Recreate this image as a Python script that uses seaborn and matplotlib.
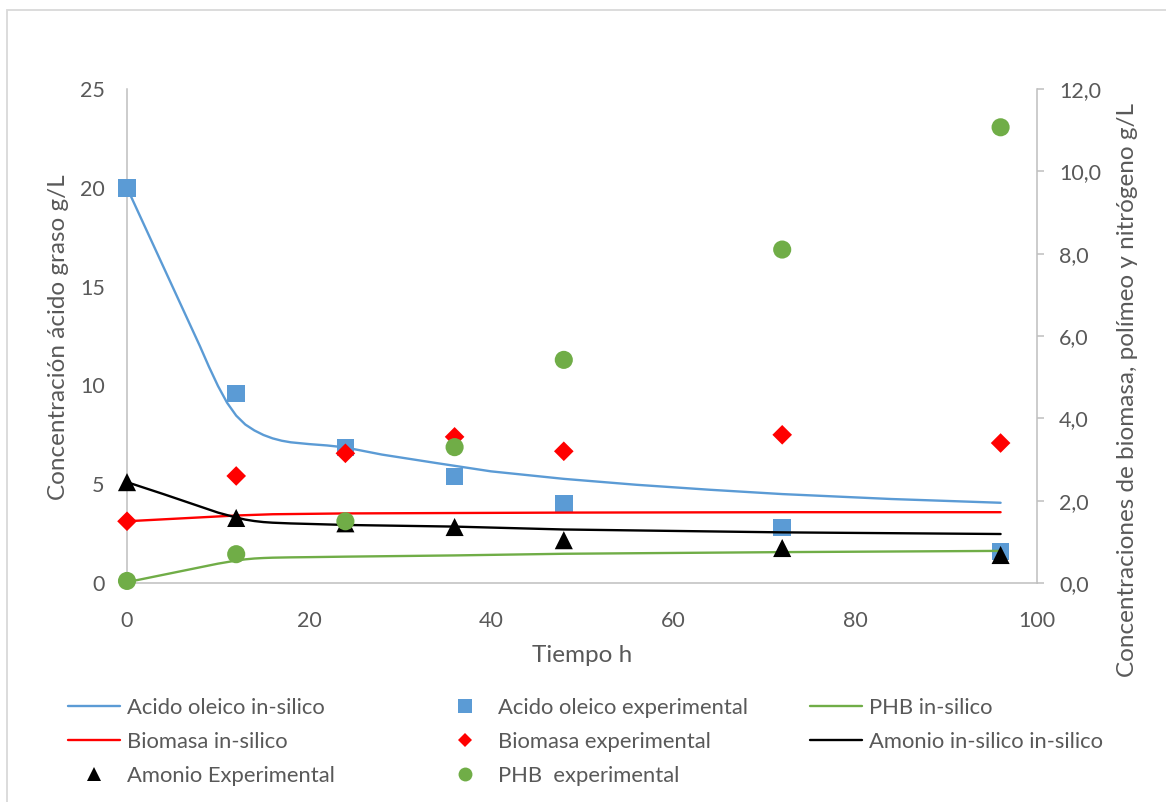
import numpy as np
import pandas as pd
import seaborn as sns
import matplotlib
matplotlib.use("Agg")
import matplotlib.pyplot as plt
from matplotlib.lines import Line2D
from matplotlib.patches import Rectangle

# ---------------- data ----------------
t_exp = [0, 12, 24, 36, 48, 72, 96]
oleico_exp = [20.0, 9.6, 6.85, 5.4, 4.0, 2.8, 1.6]          # left axis
biomasa_exp = [1.5, 2.6, 3.15, 3.55, 3.2, 3.6, 3.4]          # right axis
amonio_exp = [2.45, 1.58, 1.45, 1.36, 1.04, 0.85, 0.68]      # right axis
phb_exp = [0.05, 0.7, 1.5, 3.3, 5.42, 8.1, 11.07]            # right axis

t_oleico_sim = [0, 2, 4, 6, 8, 9, 10, 11, 12, 13, 14, 15, 16, 17, 18, 20, 22, 24,
                28, 34, 40, 48, 56, 64, 72, 84, 96]
oleico_sim = [20.0, 18.0, 16.0, 14.0, 12.0, 10.95, 9.97, 9.12, 8.47, 8.02, 7.72, 7.49,
              7.32, 7.2, 7.12, 7.03, 6.96, 6.86, 6.5, 6.07, 5.65, 5.27, 4.97, 4.72,
              4.5, 4.25, 4.06]

t_biomasa_sim = [0, 12, 16, 24, 48, 72, 96]
biomasa_sim = [1.5, 1.64, 1.67, 1.69, 1.71, 1.72, 1.72]

t_amonio_sim = [0, 4, 8, 10, 12, 13, 14, 15, 16, 18, 20, 24, 36, 48, 72, 96]
amonio_sim = [2.45, 2.16, 1.86, 1.71, 1.59, 1.54, 1.505, 1.48, 1.465, 1.447, 1.435,
              1.41, 1.37, 1.3, 1.23, 1.19]

t_phb_sim = [0, 4, 8, 10, 12, 13, 14, 15, 16, 18, 20, 24, 36, 48, 72, 96]
phb_sim = [0.02, 0.2, 0.38, 0.47, 0.545, 0.575, 0.595, 0.607, 0.615, 0.623, 0.628,
           0.64, 0.67, 0.71, 0.75, 0.78]

x_ticks = [0, 20, 40, 60, 80, 100]
left_ticks = [0, 5, 10, 15, 20, 25]
right_ticks = [0, 2, 4, 6, 8, 10, 12]
right_tick_labels = ["0,0", "2,0", "4,0", "6,0", "8,0", "10,0", "12,0"]

xlabel = "Tiempo h"
ylabel_left = "Concentración ácido graso g/L"
ylabel_right = "Concentraciones de biomasa, polímeo y nitrógeno g/L"

lbl_oleico_sim = "Acido oleico in-silico"
lbl_oleico_exp = "Acido oleico experimental"
lbl_phb_sim = "PHB in-silico"
lbl_biomasa_sim = "Biomasa in-silico"
lbl_biomasa_exp = "Biomasa experimental"
lbl_amonio_sim = "Amonio in-silico in-silico"
lbl_amonio_exp = "Amonio Experimental"
lbl_phb_exp = "PHB  experimental"

# ---------------- style ----------------
BLUE = "#5B9BD5"
RED = "#FF0000"
GREEN = "#70AD47"
BLACK = "#000000"
TXT = "#595959"
AXC = "#BFBFBF"

sns.set_theme(style="white")
plt.rcParams["font.family"] = ["Lato", "DejaVu Sans"]
plt.rcParams["lines.solid_joinstyle"] = "round"

W, H = 1166, 802
fig = plt.figure(figsize=(W / 100, H / 100), dpi=100)
fig.patch.set_facecolor("white")

# chart-area border (cropped on right and bottom)
fig.add_artist(Rectangle((7 / W, -0.2), 1.5, 1 - 10 / H + 0.2, transform=fig.transFigure,
                         fill=False, edgecolor="#D9D9D9", linewidth=1.3))

ax = fig.add_axes([127 / W, 1 - 583 / H, 910 / W, 494 / H])
ax2 = ax.twinx()

LW = 1.7
sns.lineplot(x=t_oleico_sim, y=oleico_sim, ax=ax, color=BLUE, linewidth=LW,
             sort=False, estimator=None)
sns.scatterplot(x=t_exp, y=oleico_exp, ax=ax, marker="s", s=160, color=BLUE,
                edgecolor="none", linewidth=0, clip_on=False, zorder=3)

sns.lineplot(x=t_biomasa_sim, y=biomasa_sim, ax=ax2, color=RED, linewidth=LW,
             sort=False, estimator=None)
sns.lineplot(x=t_amonio_sim, y=amonio_sim, ax=ax2, color=BLACK, linewidth=LW,
             sort=False, estimator=None)
sns.lineplot(x=t_phb_sim, y=phb_sim, ax=ax2, color=GREEN, linewidth=LW,
             sort=False, estimator=None)
sns.scatterplot(x=t_exp, y=biomasa_exp, ax=ax2, marker="D", s=100, color=RED,
                edgecolor="none", linewidth=0, clip_on=False, zorder=3)
sns.scatterplot(x=t_exp, y=amonio_exp, ax=ax2, marker="^", s=170, color=BLACK,
                edgecolor="none", linewidth=0, clip_on=False, zorder=4)
sns.scatterplot(x=t_exp, y=phb_exp, ax=ax2, marker="o", s=170, color=GREEN,
                edgecolor="none", linewidth=0, clip_on=False, zorder=5)

ax.set_xlim(0, 100)
ax.set_ylim(0, 25)
ax2.set_ylim(0, 12)
ax.set_xticks(x_ticks)
ax.set_yticks(left_ticks)
ax2.set_yticks(right_ticks)
ax2.set_yticklabels(right_tick_labels)
ax.set_xlabel("")
ax.set_ylabel("")
ax2.set_ylabel("")
ax.grid(False)
ax2.grid(False)

TICKFS = 15.5
ax.tick_params(axis="y", length=0, labelcolor=TXT, labelsize=TICKFS, pad=16)
ax.tick_params(axis="x", length=0, labelcolor=TXT, labelsize=TICKFS, pad=20)
ax2.tick_params(axis="y", length=5, width=1.1, color=AXC, direction="out",
                labelcolor=TXT, labelsize=TICKFS, pad=11)

for s in ["top", "right"]:
    ax.spines[s].set_visible(False)
for s in ["left", "bottom"]:
    ax.spines[s].set_color(AXC)
    ax.spines[s].set_linewidth(1.1)
for s in ["top", "left", "bottom"]:
    ax2.spines[s].set_visible(False)
ax2.spines["right"].set_color(AXC)
ax2.spines["right"].set_linewidth(1.1)

TITLEFS = 17.5
fig.text(582 / W, 1 - 656 / H, xlabel, ha="center", va="center", fontsize=TITLEFS, color=TXT)
fig.text(59 / W, 1 - 337 / H, ylabel_left, ha="center", va="center", rotation=90,
         fontsize=TITLEFS, color=TXT)
fig.text(1127 / W, 1 - 390 / H, ylabel_right, ha="center", va="center", rotation=90,
         fontsize=TITLEFS, color=TXT)

# ---------------- legend (three columns) ----------------
def line_h(c):
    return Line2D([0], [0], color=c, linewidth=LW)

def mark_h(c, m, ms):
    return Line2D([0], [0], color=c, marker=m, linestyle="none", markersize=ms,
                  markeredgewidth=0)

cols = [
    ([line_h(BLUE), line_h(RED), mark_h(BLACK, "^", 10)],
     [lbl_oleico_sim, lbl_biomasa_sim, lbl_amonio_exp], 68),
    ([mark_h(BLUE, "s", 9.5), mark_h(RED, "D", 7.5), mark_h(GREEN, "o", 10)],
     [lbl_oleico_exp, lbl_biomasa_exp, lbl_phb_exp], 439),
    ([line_h(GREEN), line_h(BLACK)],
     [lbl_phb_sim, lbl_amonio_sim], 810),
]
LEGFS = 15.8
for handles, labels, xpx in cols:
    fig.legend(handles, labels, loc="upper left",
               bbox_to_anchor=(xpx / W, 1 - 698 / H), bbox_transform=fig.transFigure,
               frameon=False, ncol=1, fontsize=LEGFS, labelcolor=TXT,
               handlelength=2.36, handletextpad=0.32, labelspacing=0.64,
               borderpad=0, borderaxespad=0, numpoints=1)

fig.savefig("out.png", dpi=100, facecolor="white")
